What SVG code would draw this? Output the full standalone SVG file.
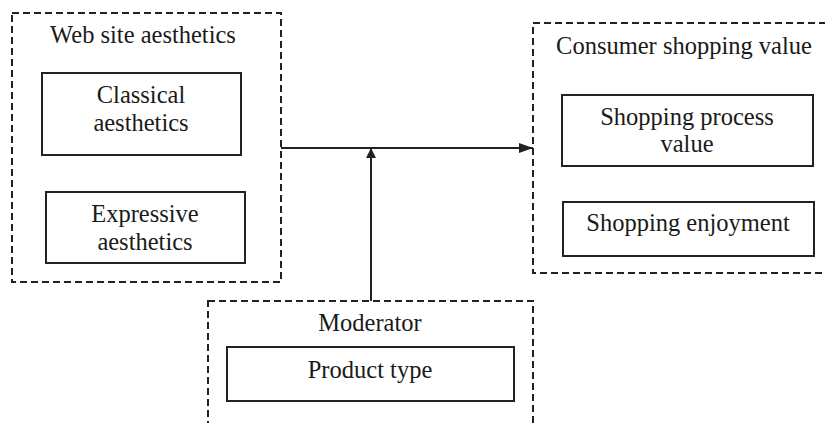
<svg xmlns="http://www.w3.org/2000/svg" width="825" height="423" viewBox="0 0 825 423">
<defs>
<style>
.grp{fill:none;stroke:#222;stroke-width:2;stroke-dasharray:7 4}
.box{fill:none;stroke:#222;stroke-width:2}
text{font-family:"Liberation Serif","Times New Roman",serif;font-size:24.5px;fill:#1a1a1a;text-anchor:middle}
.conn{stroke:#222;stroke-width:2;fill:none}
</style>
<marker id="arr" viewBox="0 0 10 10" refX="10" refY="5" markerWidth="10" markerHeight="10" markerUnits="userSpaceOnUse" orient="auto">
<path d="M0,0 L10,5 L0,10 z" fill="#222"/>
</marker>
<marker id="arrL" viewBox="0 0 14 10" refX="14" refY="5" markerWidth="14" markerHeight="10" markerUnits="userSpaceOnUse" orient="auto">
<path d="M0,0 L14,5 L0,10 z" fill="#222"/>
</marker>
</defs>
<rect width="825" height="423" fill="#fff"/>
<g id="web-site-aesthetics">
<rect class="grp" x="12" y="13" width="269" height="269"/>
<text x="143" y="43">Web site aesthetics</text>
</g>
<g id="classical-aesthetics">
<rect class="box" x="42" y="73" width="199" height="82"/>
<text x="141" y="103">Classical</text>
<text x="141" y="131">aesthetics</text>
</g>
<g id="expressive-aesthetics">
<rect class="box" x="46" y="192" width="199" height="71"/>
<text x="145" y="222">Expressive</text>
<text x="145" y="250">aesthetics</text>
</g>
<g id="consumer-shopping-value">
<rect class="grp" x="533" y="23" width="300" height="250"/>
<text x="684" y="54">Consumer shopping value</text>
</g>
<g id="shopping-process-value">
<rect class="box" x="562" y="95" width="251" height="71"/>
<text x="687" y="125">Shopping process</text>
<text x="687" y="152">value</text>
</g>
<g id="shopping-enjoyment">
<rect class="box" x="563" y="202" width="251" height="54"/>
<text x="688" y="231">Shopping enjoyment</text>
</g>
<g id="moderator">
<rect class="grp" x="208" y="301" width="325" height="140"/>
<text x="370" y="331">Moderator</text>
</g>
<g id="product-type">
<rect class="box" x="227" y="347" width="287" height="54"/>
<text x="370" y="378">Product type</text>
</g>
<g id="connectors">
<line class="conn" x1="281" y1="148" x2="533" y2="148" marker-end="url(#arrL)"/>
<line class="conn" x1="371" y1="301" x2="371" y2="148" marker-end="url(#arr)"/>
</g>
</svg>
